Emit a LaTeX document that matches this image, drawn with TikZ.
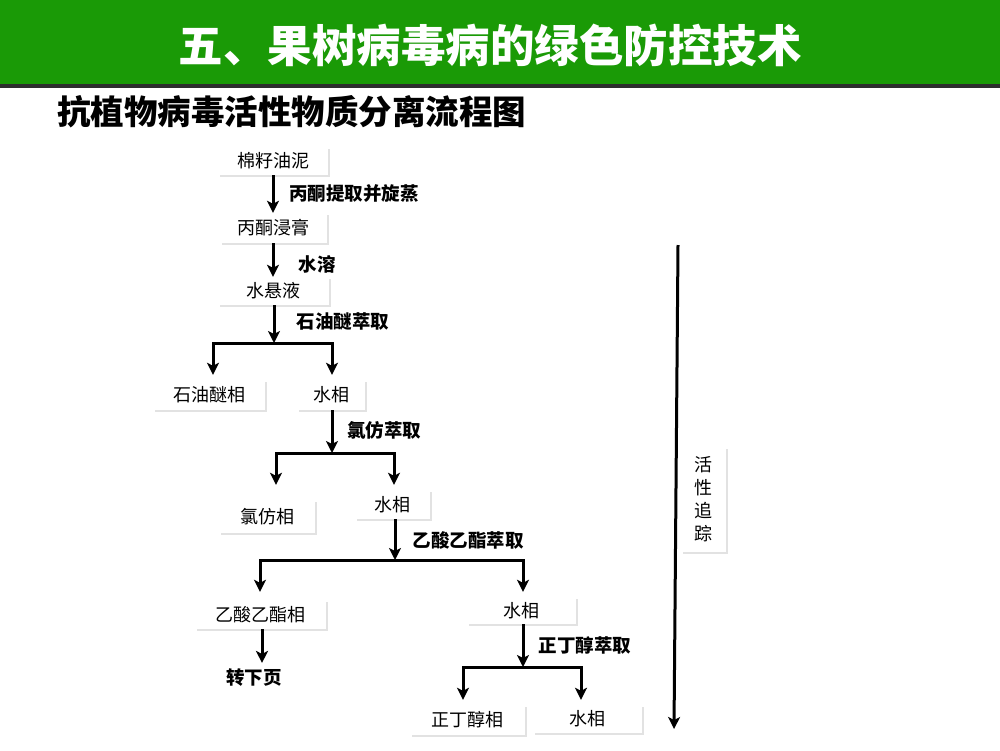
\documentclass[tikz,border=0pt]{standalone}
\usepackage{fontspec}
\newfontfamily\cjk{Noto Sans CJK SC}
\usetikzlibrary{arrows.meta,shadows}
\definecolor{titlegreen}{RGB}{26,154,6}
\definecolor{rulegray}{RGB}{45,45,45}
\begin{document}
\begin{tikzpicture}[x=1pt,y=-1pt,
  box/.style={fill=white, inner sep=0pt, font=\cjk\fontsize{18}{18}\selectfont,
    drop shadow={shadow xshift=2pt,shadow yshift=-2pt,fill=black!22}},
  lab/.style={font=\cjk\bfseries\fontsize{18.5}{18.5}\selectfont, inner sep=0pt},
  arr/.style={line width=3pt, -{Stealth[length=12pt,width=12pt,inset=3pt]}},
  ttl/.style={font=\cjk\bfseries\fontsize{44.5}{44.5}\selectfont, text=white, inner sep=0pt},
  sub/.style={font=\cjk\bfseries\fontsize{33.5}{33.5}\selectfont, inner sep=0pt, anchor=west}]
\useasboundingbox (0,0) rectangle (1000,750);
\fill[white] (0,0) rectangle (1000,750);
% header
\fill[titlegreen] (0,0) rectangle (1000,84);
\fill[rulegray] (0,84) rectangle (1000,88);
\node[ttl] (title) at (490,45) {五、果树病毒病的绿色防控技术};
\node[sub] (subtitle) at (57,112) {抗植物病毒活性物质分离流程图};
% boxes
\node[box, minimum width=110pt, minimum height=28pt] (b1) at (273,161) {棉籽油泥};
\node[box, minimum width=107pt, minimum height=30pt] (b2) at (273,228) {丙酮浸膏};
\node[box, minimum width=111pt, minimum height=28pt] (b3) at (273,291) {水悬液};
\node[box, minimum width=112pt, minimum height=30pt] (b4) at (209,395) {石油醚相};
\node[box, minimum width=68pt, minimum height=30pt] (b5) at (331,395) {水相};
\node[box, minimum width=96pt, minimum height=33pt] (b6) at (267,516.5) {氯仿相};
\node[box, minimum width=75pt, minimum height=29pt] (b7) at (392.5,504.5) {水相};
\node[box, minimum width=131pt, minimum height=29pt] (b8) at (260.5,614.5) {乙酸乙酯相};
\node[box, minimum width=109pt, minimum height=27pt] (b9) at (521.5,610.5) {水相};
\node[box, minimum width=115pt, minimum height=30pt] (b10) at (467.5,720) {正丁醇相};
\node[box, minimum width=109pt, minimum height=28pt] (b11) at (587.5,719) {水相};
\node[box, minimum width=45pt, minimum height=105pt, align=center,
  font=\cjk\fontsize{18}{23}\selectfont] (b12) at (703.5,499.5) {活\\性\\追\\踪};
% labels
\node[lab] (l1) at (354,193) {丙酮提取并旋蒸};
\node[lab] (l2) at (317,264) {水溶};
\node[lab] (l3) at (343,322) {石油醚萃取};
\node[lab] (l4) at (384,430) {氯仿萃取};
\node[lab] (l5) at (468,540) {乙酸乙酯萃取};
\node[lab] (l6) at (585,645) {正丁醇萃取};
\node[lab] (next) at (254,678) {转下页};
% junctions
\coordinate (j1) at (274,343);
\coordinate (j2) at (332,453);
\coordinate (j3) at (395,560);
\coordinate (j4) at (523,667);
% connectors
\draw[arr] (b1.south) -- (b2.north);
\draw[arr] (b2.south) -- (b3.north);
\draw[arr] (j1 |- b3.south) -- (j1);
\draw[arr, shorten >=5pt] (j1) -| ([xshift=4pt]b4.north);
\draw[arr, shorten >=5pt] (j1) -| ([xshift=1pt]b5.north);
\draw[arr] (j2 |- b5.south) -- (j2);
\draw[arr, shorten >=15pt] (j2) -| ([xshift=9pt]b6.north);
\draw[arr, shorten >=5pt] (j2) -| ([xshift=1.5pt]b7.north);
\draw[arr] (j3 |- b7.south) -- (j3);
\draw[arr, shorten >=8pt] (j3) -| ([xshift=-0.5pt]b8.north);
\draw[arr, shorten >=5pt] (j3) -| ([xshift=1.5pt]b9.north);
\draw[arr, shorten >=6pt] ([xshift=1.5pt]b8.south) -- ([xshift=1.5pt]b8.south |- next.north);
\draw[arr] (j4 |- b9.south) -- (j4);
\draw[arr, shorten >=5pt] (j4) -| ([xshift=-4.5pt]b10.north);
\draw[arr, shorten >=5pt] (j4) -| ([xshift=-6.5pt]b11.north);
% activity tracking arrow
\coordinate (ta) at (678,245);
\coordinate (tb) at (674,729);
\draw[arr] (ta) -- (tb);
\end{tikzpicture}
\end{document}
